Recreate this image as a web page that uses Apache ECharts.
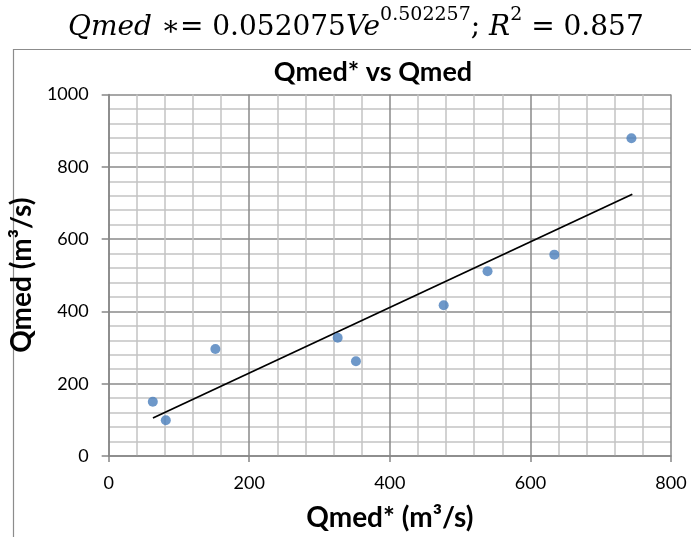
<!DOCTYPE html>
<html>
<head>
<meta charset="utf-8">
<script src="https://cdn.jsdelivr.net/npm/echarts@6/dist/echarts.min.js"></script>
<style>html,body{margin:0;padding:0;background:#fff;}#c{width:691px;height:537px;}</style>
</head>
<body>
<div id="c"></div>
<script>
var chartTitle = 'Qmed* vs Qmed';
var xName = 'Qmed* (m³/s)';
var yName = 'Qmed (m³/s)';
var qmedStar = [62.8, 81.3, 151.8, 325.8, 351.8, 476.6, 539, 634, 743.7];
var qmed = [150, 99, 296, 327, 262, 417, 511, 557, 879];
var trendX = [63, 745];
var trendY = [105, 724];
var xTicks = [0, 200, 400, 600, 800];
var yTicks = [0, 200, 400, 600, 800, 1000];

var chart = echarts.init(document.getElementById('c'), null, {renderer: 'canvas'});
var pts = qmedStar.map(function (v, i) { return [v, qmed[i]]; });
var trend = trendX.map(function (v, i) { return [v, trendY[i]]; });
var fontFam = 'Lato, "Open Sans", sans-serif';

chart.setOption({
  animation: false,
  backgroundColor: '#fff',
  graphic: [
    {type: 'rect', left: 11, top: 47, shape: {width: 720, height: 600}, style: {fill: 'none', stroke: '#8c8c8c', lineWidth: 1.2}, silent: true, z: -1},
    {type: 'text', left: 68, top: 6, style: {
      text: '{i|Qmed }{n|∗= 0.052075}{i|Ve}{s|0.502257}{n|; }{i|R}{s|2}{n| = 0.857}',
      rich: {
        i: {fontFamily: '"DejaVu Serif", serif', fontStyle: 'italic', fontSize: 28, lineHeight: 36, verticalAlign: 'bottom', fill: '#000'},
        n: {fontFamily: '"DejaVu Serif", serif', fontSize: 28, lineHeight: 36, verticalAlign: 'bottom', fill: '#000'},
        s: {fontFamily: '"DejaVu Serif", serif', fontSize: 19, lineHeight: 36, verticalAlign: 'top', fill: '#000'}
      }
    }}
  ],
  title: {
    text: chartTitle, left: 368, top: 54, textAlign: 'center',
    textStyle: {fontFamily: fontFam, fontWeight: 'bold', fontSize: 27, color: '#000'}
  },
  grid: {left: 107, right: 20, top: 94.5, bottom: 77.5, containLabel: false},
  xAxis: {
    type: 'value', min: 0, max: 800, interval: 200,
    name: xName, nameLocation: 'middle', nameGap: 48,
    nameTextStyle: {fontFamily: fontFam, fontWeight: 'bold', fontSize: 28, color: '#000'},
    axisLine: {show: true, onZero: false, lineStyle: {color: '#868686', width: 1.5}},
    axisTick: {show: true, length: 6, inside: false, lineStyle: {color: '#868686', width: 1.5}},
    axisLabel: {fontFamily: fontFam, fontSize: 18, color: '#000', margin: 18,
      formatter: function (v) { return String(v); }},
    splitLine: {show: true, lineStyle: {color: '#8a8a8a', width: 1.5}},
    minorTick: {show: false, splitNumber: 5},
    minorSplitLine: {show: true, lineStyle: {color: '#c4c4c4', width: 1.5}}
  },
  yAxis: {
    type: 'value', min: 0, max: 1000, interval: 200,
    name: yName, nameLocation: 'middle', nameGap: 43, nameRotate: 90,
    nameTextStyle: {fontFamily: fontFam, fontWeight: 'bold', fontSize: 28, color: '#000'},
    axisLine: {show: true, onZero: false, lineStyle: {color: '#868686', width: 1.5}},
    axisTick: {show: true, length: 7, inside: false, lineStyle: {color: '#868686', width: 1.5}},
    axisLabel: {fontFamily: fontFam, fontSize: 18, color: '#000', margin: 20,
      formatter: function (v) { return String(v); }},
    splitLine: {show: true, lineStyle: {color: '#8a8a8a', width: 1.5}},
    minorTick: {show: false, splitNumber: 5},
    minorSplitLine: {show: true, lineStyle: {color: '#c4c4c4', width: 1.5}}
  },
  series: [
    {type: 'line', data: trend, symbol: 'none', lineStyle: {color: '#000', width: 1.8}, z: 3, silent: true},
    {type: 'scatter', data: pts, symbol: 'circle', symbolSize: 10, itemStyle: {color: '#4a7ebb'}, z: 4}
  ]
});
</script>
</body>
</html>
